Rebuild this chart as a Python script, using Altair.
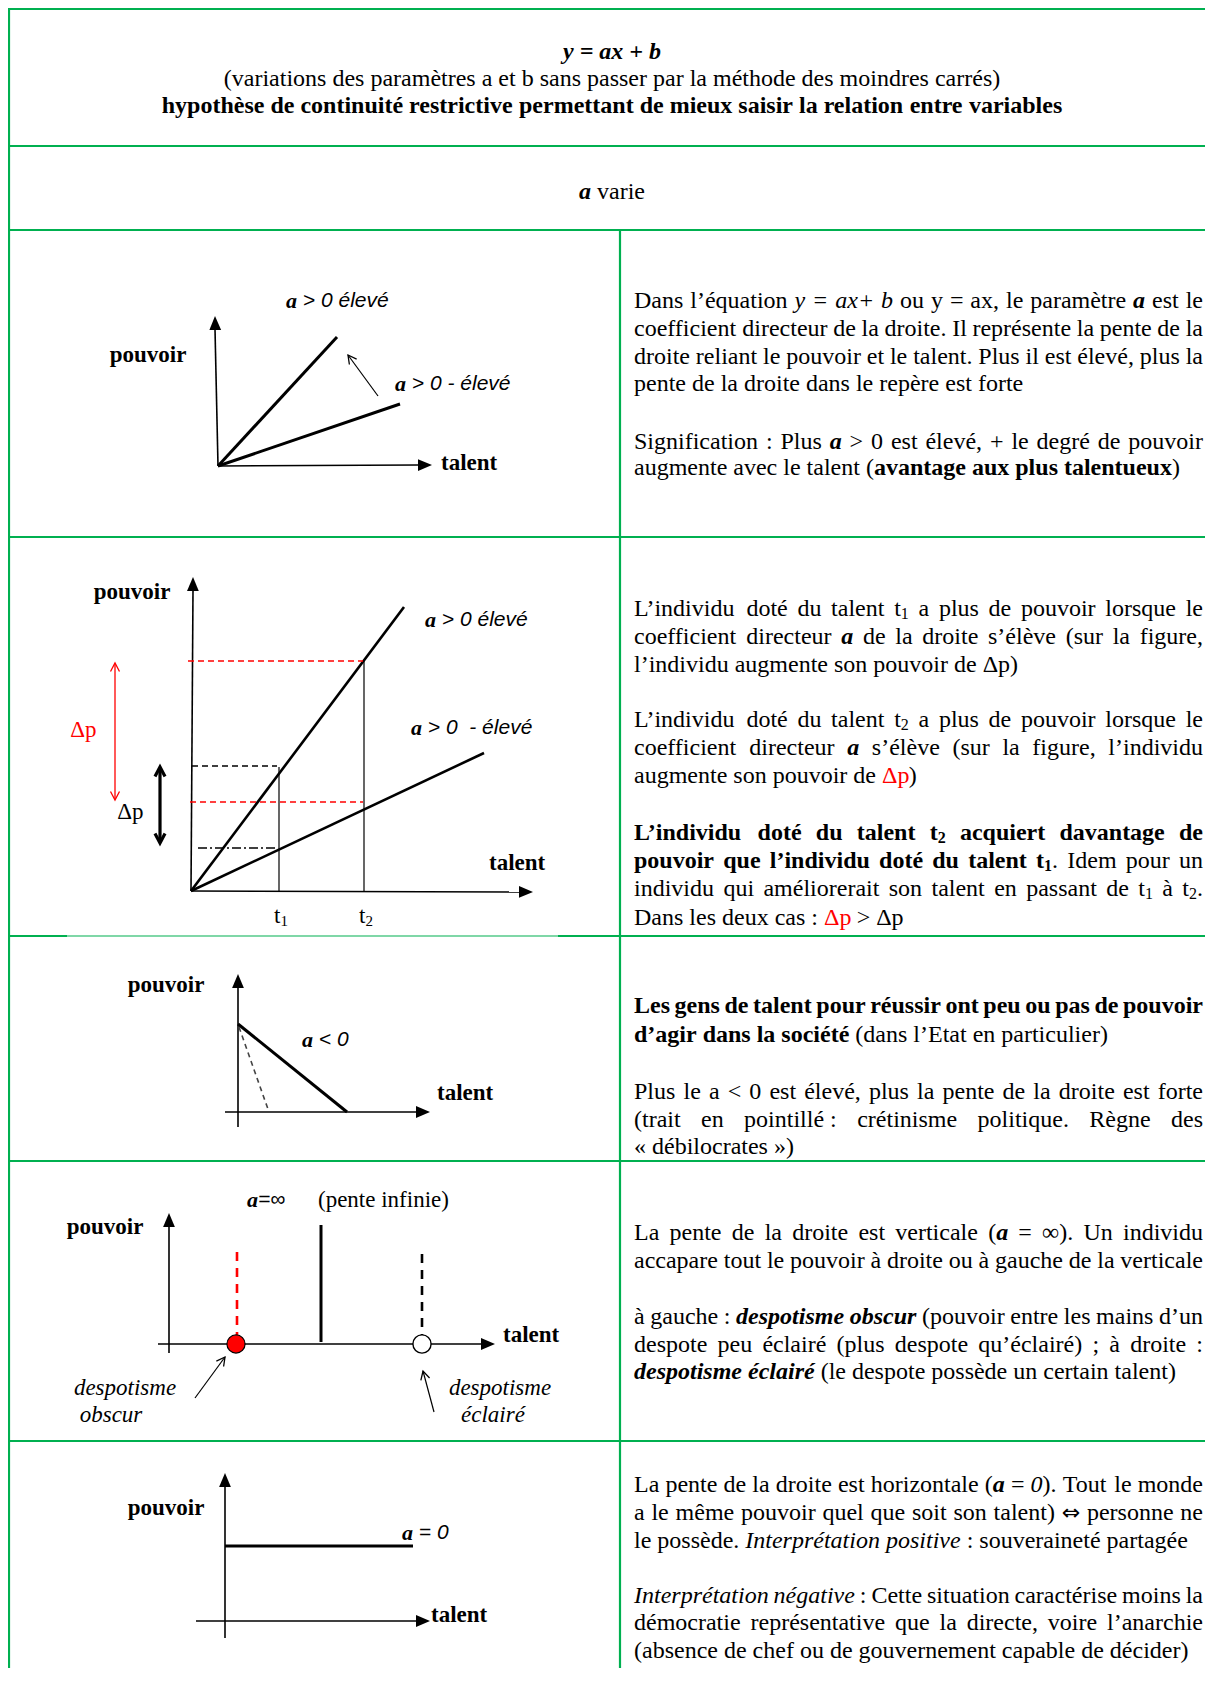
import re
import math
import unicodedata
import altair as alt
import pandas as pd

# ---------------------------------------------------------------- canvas
W, H = 1197, 1660
XS = alt.Scale(domain=[8, 8 + W], nice=False, zero=False)
YS = alt.Scale(domain=[8, 8 + H], nice=False, zero=False, reverse=True)
RED = "#FF0000"
BLACK = "#000000"
GREEN = "#00B050"

# ---------------------------------------------------------------- table grid
GRID = [
    (8, 9, 1205, 9, "border"), (8, 146, 1205, 146, "border"),
    (8, 230, 1205, 230, "border"), (8, 537, 1205, 537, "border"),
    (8, 936, 67, 936, "border"), (67, 936, 558, 936, "border_thin"),
    (558, 936, 1205, 936, "border"), (8, 1161, 1205, 1161, "border"),
    (8, 1441, 1205, 1441, "border"),
    (9, 9, 9, 1668, "border"), (620, 230, 620, 1668, "border"),
]

# ---------------------------------------------------------------- diagrams (line segments)
D1_LINES = [
    (218, 466, 215, 329, "axis"), (218, 466, 418, 465, "axis"),
    (218, 466, 337, 337, "slope"), (218, 466, 400, 404, "slope"),
    (378, 396, 348, 355, "thin"),
]
D2_LINES = [
    (191, 891, 193, 590, "axis"), (191, 891, 519, 892, "axis"),
    (191, 891, 404, 607, "slope2"), (191, 891, 484, 753, "slope2"),
    (279, 767, 279, 891, "thin"), (364, 661, 364, 891, "thin"),
    (188, 661, 363, 661, "red_dash"), (192, 766, 277, 766, "black_dash"),
    (190, 802, 363, 802, "red_dash"), (198, 848, 277, 848, "dashdot"),
    (115, 664, 115, 799, "red_thin"), (160, 770, 160, 840, "bold"),
]
D3_LINES = [
    (238, 987, 238, 1127, "axis"), (225, 1112, 416, 1112, "axis"),
    (238, 1024, 347, 1112, "slope"), (239, 1027, 269, 1112, "grey_dash"),
]
D4_LINES = [
    (169, 1227, 169, 1353, "axis"), (158, 1344, 481, 1344, "axis"),
    (237, 1252, 237, 1335, "red_vdash"), (321, 1225, 321, 1342, "slope"),
    (422, 1254, 422, 1335, "black_vdash"),
    (195, 1398, 225, 1357, "thin"), (434, 1412, 423, 1371, "thin"),
]
D5_LINES = [
    (225, 1487, 225, 1638, "axis"), (196, 1621, 416, 1621, "axis"),
    (225, 1546, 413, 1546, "slope"),
]

LINE_STYLES = {
    "border": dict(color=GREEN, strokeWidth=2.2),
    "border_thin": dict(color=GREEN, strokeWidth=1.2),
    "axis": dict(color=BLACK, strokeWidth=1.6),
    "slope": dict(color=BLACK, strokeWidth=3),
    "slope2": dict(color=BLACK, strokeWidth=2.6),
    "thin": dict(color=BLACK, strokeWidth=1.2),
    "bold": dict(color=BLACK, strokeWidth=3.2),
    "red_thin": dict(color=RED, strokeWidth=1.3),
    "red_dash": dict(color=RED, strokeWidth=1.3, strokeDash=[6, 4]),
    "black_dash": dict(color=BLACK, strokeWidth=1.3, strokeDash=[6, 4]),
    "dashdot": dict(color=BLACK, strokeWidth=1.3, strokeDash=[9, 3, 2, 3]),
    "grey_dash": dict(color="#444444", strokeWidth=1.6, strokeDash=[5, 4]),
    "red_vdash": dict(color=RED, strokeWidth=2.6, strokeDash=[9, 7]),
    "black_vdash": dict(color=BLACK, strokeWidth=2.6, strokeDash=[9, 7]),
}

# filled axis arrowheads: tip, tail of the axis
AXIS_HEADS = [
    ((215, 316), (218, 466)), ((432, 465), (218, 466)),
    ((193, 577), (191, 891)), ((533, 892), (191, 891)),
    ((238, 974), (238, 1127)), ((430, 1112), (225, 1112)),
    ((169, 1213), (169, 1353)), ((495, 1344), (158, 1344)),
    ((225, 1473), (225, 1638)), ((430, 1621), (196, 1621)),
]
# open arrowheads: tip, tail, style
OPEN_HEADS = [
    ((348, 355), (378, 396), "thin"),
    ((115, 663), (115, 800), "red"), ((115, 800), (115, 663), "red"),
    ((160, 767), (160, 843), "bold"), ((160, 843), (160, 767), "bold"),
    ((225, 1357), (195, 1398), "thin"), ((423, 1371), (434, 1412), "thin"),
]
OPEN_STYLES = {
    "thin": dict(color=BLACK, strokeWidth=1.3, size=400),
    "red": dict(color=RED, strokeWidth=1.3, size=400),
    "bold": dict(color=BLACK, strokeWidth=3.2, size=500),
}
RED_DOTS = [(236, 1344)]
WHITE_DOTS = [(422, 1344)]

# ---------------------------------------------------------------- font metrics (Times / Helvetica, 1/1000 em)
LOW = "abcdefghijklmnopqrstuvwxyz"
UP = "ABCDEFGHIJKLMNOPQRSTUVWXYZ"
def _tab(low, up, extra):
    t = dict(zip(LOW, low))
    t.update(dict(zip(UP, up)))
    t.update({d: 500 for d in "0123456789"})
    t.update(extra)
    return t
COMMON = {" ": 250, "\u00a0": 250, "(": 333, ")": 333, ",": 250, ".": 250, "’": 333,
          "-": 333, "«": 500, "»": 500, "Δ": 612, "∞": 713, "⇔": 838, "/": 278}
METRICS = {
    "R": _tab([444,500,444,500,444,333,500,500,278,278,500,278,778,500,500,500,500,333,389,278,500,500,722,500,500,444],
              [722,667,667,722,611,556,722,722,333,389,722,611,889,722,722,556,722,667,556,611,722,722,944,722,722,611],
              dict(COMMON, **{":": 278, ";": 278, "+": 564, "=": 564, "<": 564, ">": 564})),
    "B": _tab([500,556,444,556,444,333,500,556,278,333,556,278,833,556,500,556,556,444,389,333,556,500,722,500,500,444],
              [722,667,722,722,667,611,778,778,389,500,778,667,944,722,778,611,778,722,556,667,722,722,1000,722,722,667],
              dict(COMMON, **{":": 333, ";": 333, "+": 570, "=": 570, "<": 570, ">": 570})),
    "I": _tab([500,500,444,500,444,278,500,500,278,278,444,278,722,500,500,500,500,389,389,278,500,444,667,444,444,389],
              [611,611,667,722,611,611,722,722,333,444,667,556,833,667,722,611,722,611,500,556,722,611,833,611,556,556],
              dict(COMMON, **{":": 333, ";": 333, "+": 675, "=": 675, "<": 675, ">": 675})),
    "BI": _tab([500,500,444,500,444,333,500,556,278,278,500,278,778,556,500,500,500,389,389,278,556,444,667,500,444,389],
               [667,667,667,722,667,667,722,778,389,500,667,611,889,722,722,611,722,667,556,611,722,667,889,667,611,611],
               dict(COMMON, **{":": 333, ";": 333, "+": 570, "=": 570, "<": 570, ">": 570})),
    "S": {" ": 278, ">": 584, "<": 584, "=": 584, "-": 333, "0": 556, "a": 556, "e": 556,
          "l": 222, "v": 500, "∞": 713},
}
SERIF = "Liberation Serif, Times New Roman, serif"
SANS = "Liberation Sans, Arial, sans-serif"
SYMB = "DejaVu Sans, sans-serif"
TEXT_STYLES = {
    # key: (metrics, font, size, weight, style, dy)
    "R": ("R", SERIF, 24, "normal", "normal", 0),
    "B": ("B", SERIF, 24, "bold", "normal", 0),
    "I": ("I", SERIF, 24, "normal", "italic", 0),
    "BI": ("BI", SERIF, 24, "bold", "italic", 0),
    "RS": ("R", SERIF, 16, "normal", "normal", 5),
    "BS": ("B", SERIF, 16, "bold", "normal", 5),
    "AR": ("R", SYMB, 22, "normal", "normal", 0),
    "LB": ("B", SERIF, 23, "bold", "normal", 0),
    "LR": ("R", SERIF, 23, "normal", "normal", 0),
    "LBI": ("BI", SERIF, 22, "bold", "italic", 0),
    "LI": ("S", SANS, 21, "normal", "italic", 0),
    "LS": ("I", SERIF, 23, "normal", "italic", 0),
    "LSUB": ("R", SERIF, 15, "normal", "normal", 5),
}

def char_w(ch, fam):
    t = METRICS[fam]
    if ch in t:
        return t[ch]
    base = unicodedata.normalize("NFD", ch)[0]
    return t.get(base, 500)

def layout(runs, y, left=None, right=None, center=None, justify=False):
    chunks = []
    for run in runs:
        text, st = run[0], run[1]
        col = run[2] if len(run) > 2 else BLACK
        fam, size = TEXT_STYLES[st][0], TEXT_STYLES[st][2]
        for piece in re.findall(r" +|[^ ]+", text):
            w = sum(char_w(c, fam) for c in piece) * size / 1000.0
            chunks.append((piece, st, col, w, piece.startswith(" ")))
    natural = sum(c[3] for c in chunks)
    nsp = sum(len(c[0]) for c in chunks if c[4])
    extra = (right - left - natural) / nsp if (justify and nsp) else 0.0
    if center is not None:
        x = center - natural / 2
    elif left is not None:
        x = left
    else:
        x = right - natural
    out = []
    for piece, st, col, w, sp in chunks:
        if sp:
            x += w + extra * len(piece)
        else:
            out.append(dict(x=x, y=y, text=piece, style=st, color=col))
            x += w
    return out

# ---------------------------------------------------------------- header text
TITLE_LINES = [
    [("y = ax + b", "BI")],
    [("(variations des paramètres a et b sans passer par la méthode des moindres carrés)", "R")],
    [("hypothèse de continuité restrictive permettant de mieux saisir la relation entre variables", "B")],
    [("a", "BI"), (" varie", "R")],
]
TITLE_Y = [52, 79, 106, 192]

# ---------------------------------------------------------------- right-column paragraphs
ROW1_LINES = [
    ([("Dans l’équation ", "R"), ("y = ax+ b", "I"), (" ou y = ax, le paramètre ", "R"), ("a", "BI"), (" est le", "R")], True),
    ([("coefficient directeur de la droite. Il représente la pente de la", "R")], True),
    ([("droite reliant le pouvoir et le talent. Plus il est élevé, plus la", "R")], True),
    ([("pente de la droite dans le repère est forte", "R")], False),
    ([("Signification : Plus ", "R"), ("a", "BI"), (" > 0 est élevé, + le degré de pouvoir", "R")], True),
    ([("augmente avec le talent (", "R"), ("avantage aux plus talentueux", "B"), (")", "R")], False),
]
ROW1_Y = [301, 329, 357, 384, 442, 468]

ROW2_LINES = [
    ([("L’individu doté du talent t", "R"), ("1", "RS"), (" a plus de pouvoir lorsque le", "R")], True),
    ([("coefficient directeur ", "R"), ("a", "BI"), (" de la droite s’élève (sur la figure,", "R")], True),
    ([("l’individu augmente son pouvoir de Δp)", "R")], False),
    ([("L’individu doté du talent t", "R"), ("2", "RS"), (" a plus de pouvoir lorsque le", "R")], True),
    ([("coefficient directeur ", "R"), ("a", "BI"), (" s’élève (sur la figure, l’individu", "R")], True),
    ([("augmente son pouvoir de ", "R"), ("Δp", "R", RED), (")", "R")], False),
    ([("L’individu doté du talent t", "B"), ("2", "BS"), (" acquiert davantage de", "B")], True),
    ([("pouvoir que l’individu doté du talent t", "B"), ("1", "BS"), (". Idem pour un", "R")], True),
    ([("individu qui améliorerait son talent en passant de t", "R"), ("1", "RS"), (" à t", "R"), ("2", "RS"), (".", "R")], True),
    ([("Dans les deux cas : ", "R"), ("Δp", "R", RED), (" > Δp", "R")], False),
]
ROW2_Y = [609, 637, 665, 720, 748, 776, 833, 861, 889, 918]

ROW3_LINES = [
    ([("Les gens de talent pour réussir ont peu ou pas de pouvoir", "B")], True),
    ([("d’agir dans la société", "B"), (" (dans l’Etat en particulier)", "R")], False),
    ([("Plus le a < 0 est élevé, plus la pente de la droite est forte", "R")], True),
    ([("(trait en pointillé\u00a0: crétinisme politique. Règne des", "R")], True),
    ([("«\u00a0débilocrates\u00a0»)", "R")], False),
]
ROW3_Y = [1006, 1035, 1092, 1120, 1147]

ROW4_LINES = [
    ([("La pente de la droite est verticale (", "R"), ("a", "BI"), (" = ∞). Un individu", "R")], True),
    ([("accapare tout le pouvoir à droite ou à gauche de la verticale", "R")], True),
    ([("à gauche : ", "R"), ("despotisme obscur", "BI"), (" (pouvoir entre les mains d’un", "R")], True),
    ([("despote peu éclairé (plus despote qu’éclairé) ; à droite :", "R")], True),
    ([("despotisme éclairé", "BI"), (" (le despote possède un certain talent)", "R")], False),
]
ROW4_Y = [1233, 1261, 1317, 1345, 1372]

ROW5_LINES = [
    ([("La pente de la droite est horizontale (", "R"), ("a", "BI"), (" = ", "R"), ("0", "I"), ("). Tout le monde", "R")], True),
    ([("a le même pouvoir quel que soit son talent) ", "R"), ("⇔", "AR"), (" personne ne", "R")], True),
    ([("le possède. ", "R"), ("Interprétation positive", "I"), (" : souveraineté partagée", "R")], False),
    ([("Interprétation négative", "I"), (" : Cette situation caractérise moins la", "R")], True),
    ([("démocratie représentative que la directe, voire l’anarchie", "R")], True),
    ([("(absence de chef ou de gouvernement capable de décider)", "R")], False),
]
ROW5_Y = [1485, 1513, 1541, 1596, 1623, 1651]

TEXT_LEFT, TEXT_RIGHT = 634, 1203

# ---------------------------------------------------------------- diagram labels: runs, y, anchor, x
DIAG_LABELS = [
    ([("pouvoir", "LB")], 355, "center", 148),
    ([("talent", "LB")], 463, "left", 441),
    ([("a", "LBI"), (" > 0 élevé", "LI")], 301, "left", 286),
    ([("a", "LBI"), (" > 0 - élevé", "LI")], 384, "left", 395),
    ([("pouvoir", "LB")], 592, "center", 132),
    ([("talent", "LB")], 863, "left", 489),
    ([("a", "LBI"), (" > 0 élevé", "LI")], 620, "left", 425),
    ([("a", "LBI"), (" > 0  - élevé", "LI")], 728, "left", 411),
    ([("Δp", "LR", RED)], 730, "center", 83),
    ([("Δp", "LR")], 812, "center", 130),
    ([("t", "LR"), ("1", "LSUB")], 916, "center", 281),
    ([("t", "LR"), ("2", "LSUB")], 916, "center", 366),
    ([("pouvoir", "LB")], 985, "center", 166),
    ([("talent", "LB")], 1093, "left", 437),
    ([("a", "LBI"), (" < 0", "LI")], 1040, "left", 302),
    ([("a", "LBI"), ("=∞", "LI")], 1200, "left", 247),
    ([("(pente infinie)", "LR")], 1200, "left", 318),
    ([("pouvoir", "LB")], 1227, "center", 105),
    ([("talent", "LB")], 1335, "left", 503),
    ([("despotisme", "LS")], 1388, "center", 125),
    ([("obscur", "LS")], 1415, "center", 111),
    ([("despotisme", "LS")], 1388, "center", 500),
    ([("éclairé", "LS")], 1415, "center", 493),
    ([("pouvoir", "LB")], 1508, "center", 166),
    ([("talent", "LB")], 1615, "left", 431),
    ([("a", "LBI"), (" = 0", "LI")], 1533, "left", 402),
]

# ---------------------------------------------------------------- build tables
lines_df = pd.DataFrame(GRID + D1_LINES + D2_LINES + D3_LINES + D4_LINES + D5_LINES,
                        columns=["x", "y", "x2", "y2", "style"])

def ang(tip, tail):
    dx, dy = tip[0] - tail[0], tip[1] - tail[1]
    return math.degrees(math.atan2(dx, -dy)) % 360

heads_df = pd.DataFrame([dict(x=t[0], y=t[1], ang=ang(t, f)) for t, f in AXIS_HEADS])
open_df = pd.DataFrame([dict(x=t[0], y=t[1], ang=ang(t, f), style=s) for t, f, s in OPEN_HEADS])

texts = []
for runs, y in zip(TITLE_LINES, TITLE_Y):
    texts += layout(runs, y, center=612)
for rows, ys in [(ROW1_LINES, ROW1_Y), (ROW2_LINES, ROW2_Y), (ROW3_LINES, ROW3_Y),
                 (ROW4_LINES, ROW4_Y), (ROW5_LINES, ROW5_Y)]:
    for (runs, just), y in zip(rows, ys):
        texts += layout(runs, y, left=TEXT_LEFT, right=TEXT_RIGHT, justify=just)
for runs, y, anchor, x in DIAG_LABELS:
    if anchor == "center":
        texts += layout(runs, y, center=x)
    else:
        texts += layout(runs, y, left=x)
text_df = pd.DataFrame(texts)

# ---------------------------------------------------------------- chart layers
def xy():
    return dict(x=alt.X("x:Q", scale=XS, axis=None), y=alt.Y("y:Q", scale=YS, axis=None))

layers = []
for st, props in LINE_STYLES.items():
    sub = lines_df[lines_df["style"] == st]
    if len(sub) == 0:
        continue
    layers.append(alt.Chart(sub).mark_rule(**props).encode(**xy(), x2="x2:Q", y2="y2:Q"))

HEAD_PATH = "M0,0L-0.42,1L0.42,1Z"
V_PATH = "M-0.45,0.85L0,0L0.45,0.85"
layers.append(alt.Chart(heads_df).mark_point(shape=HEAD_PATH, filled=True, color=BLACK,
                                             size=784, opacity=1, strokeWidth=0)
              .encode(**xy(), angle=alt.Angle("ang:Q", scale=None)))
for st, props in OPEN_STYLES.items():
    sub = open_df[open_df["style"] == st]
    layers.append(alt.Chart(sub).mark_point(shape=V_PATH, filled=False, opacity=1, **props)
                  .encode(**xy(), angle=alt.Angle("ang:Q", scale=None)))

red_df = pd.DataFrame(RED_DOTS, columns=["x", "y"])
white_df = pd.DataFrame(WHITE_DOTS, columns=["x", "y"])
layers.append(alt.Chart(red_df).mark_point(shape="circle", filled=True, fill=RED, stroke=BLACK,
                                           strokeWidth=1.2, size=330, opacity=1).encode(**xy()))
layers.append(alt.Chart(white_df).mark_point(shape="circle", filled=True, fill="white", stroke=BLACK,
                                             strokeWidth=1.4, size=330, opacity=1).encode(**xy()))

for st, (fam, font, size, weight, style, dy) in TEXT_STYLES.items():
    sub = text_df[text_df["style"] == st]
    if len(sub) == 0:
        continue
    layers.append(alt.Chart(sub).mark_text(align="left", baseline="middle", font=font, fontSize=size,
                                           fontWeight=weight, fontStyle=style, dy=dy)
                  .encode(**xy(), text="text:N", color=alt.Color("color:N", scale=None)))

chart = alt.layer(*layers).properties(
    width=W, height=H, padding=0, autosize=alt.AutoSizeParams(type="none"),
    background="white",
).configure_view(stroke=None)

chart.save("out.html", embed_options={"renderer": "svg", "actions": False})
